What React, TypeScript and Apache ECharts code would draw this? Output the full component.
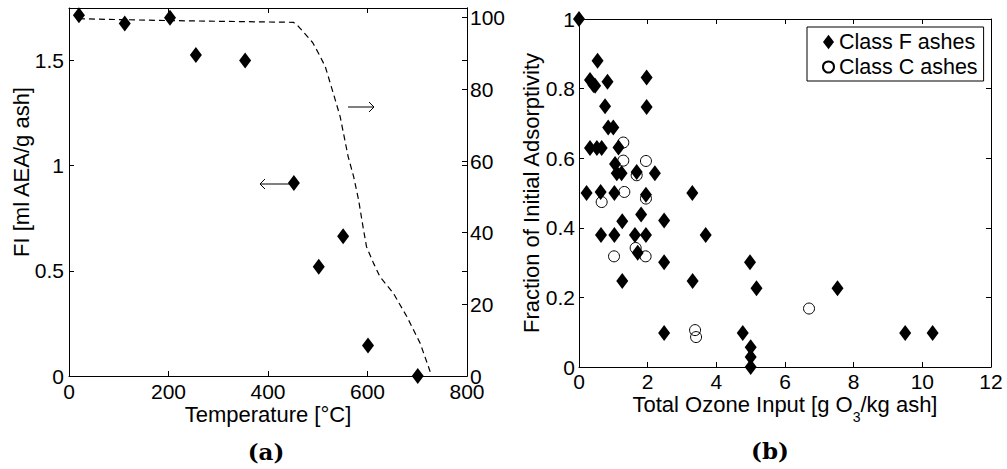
import React, { useEffect, useRef } from "react";
import * as echarts from "echarts";

// ---- Panel (a): Foam Index vs temperature ----
const tempPoints = [20, 112, 203, 255, 354, 452, 502, 551, 601, 701];
const fiValues = [1.715, 1.676, 1.704, 1.527, 1.5, 0.918, 0.519, 0.665, 0.145, 0.0];
const curveTemp = [20, 196, 451, 461, 490, 501, 515, 531, 545, 561, 572, 582, 592, 598, 612, 625, 652, 679, 706, 726];
const curvePct = [99.7, 99.2, 98.7, 97.6, 93, 90.2, 86.4, 79, 72.4, 61.3, 55.7, 49.2, 40.8, 36.1, 31.5, 27.7, 23.1, 16.6, 9.1, 1.2];

// ---- Panel (b): fraction of initial adsorptivity vs ozone input ----
const classFOzone = [0, 0.54, 0.32, 0.42, 0.47, 0.83, 1.97, 1.97, 0.76, 0.85, 1.0, 0.32, 0.52, 0.66, 1.15, 1.05, 1.1, 1.24, 1.68, 2.21, 0.22, 0.63, 1.03, 1.95, 3.3, 1.26, 1.81, 2.48, 0.64, 1.03, 1.63, 1.95, 3.69, 1.71, 2.48, 4.98, 1.26, 3.31, 5.17, 7.53, 2.48, 4.77, 5.0, 5.0, 5.0, 9.5, 10.3];
const classFFraction = [1.0, 0.88, 0.825, 0.81, 0.808, 0.82, 0.832, 0.747, 0.749, 0.688, 0.688, 0.629, 0.629, 0.629, 0.631, 0.583, 0.557, 0.557, 0.56, 0.557, 0.5, 0.503, 0.5, 0.495, 0.5, 0.419, 0.438, 0.421, 0.379, 0.379, 0.379, 0.379, 0.379, 0.328, 0.301, 0.301, 0.247, 0.247, 0.226, 0.226, 0.098, 0.098, 0.057, 0.029, 0.0, 0.098, 0.098];
const classCOzone = [1.29, 1.29, 1.95, 1.68, 1.32, 0.66, 1.95, 1.65, 1.02, 1.94, 3.38, 3.41, 6.7];
const classCFraction = [0.645, 0.593, 0.592, 0.551, 0.503, 0.474, 0.484, 0.342, 0.318, 0.318, 0.106, 0.086, 0.168];

const FONT = "'Liberation Sans', Arial, Helvetica, sans-serif";
const SERIF = "'DejaVu Serif', 'Liberation Serif', serif";

const zip = (a: number[], b: number[]) => a.map((v, i) => [v, b[i]]);

function measure(text: string, size: number): number {
  const c = document.createElement("canvas").getContext("2d");
  if (!c) return text.length * size * 0.55;
  c.font = `${size}px ${FONT}`;
  return c.measureText(text).width;
}

const tickLabel = (extra: any) => ({ color: "#000", fontSize: 21, lineHeight: 16, fontFamily: FONT, ...extra });

function baseAxis(extra: any) {
  return {
    type: "value",
    axisLine: { show: true, onZero: false, lineStyle: { color: "#000", width: 1 } },
    axisTick: { show: true, inside: true, length: 5, lineStyle: { color: "#000", width: 1 } },
    splitLine: { show: false },
    ...extra,
  };
}

export default function App() {
  const ref = useRef<HTMLDivElement>(null);
  useEffect(() => {
    if (!ref.current) return;
    const chart = echarts.init(ref.current, undefined, { renderer: "svg" });
    const multiple = (step: number) => (v: number) =>
      Math.abs(v / step - Math.round(v / step)) < 1e-6 ? String(+v.toFixed(2)) : "";

    // x-axis title of panel (b) with subscript, built from three text pieces
    const tA = "Total Ozone Input [g O";
    const tSub = "3";
    const tB = "/kg ash]";
    const wA = measure(tA, 22);
    const wSub = measure(tSub, 14);
    const wB = measure(tB, 22);
    const startX = 785 - (wA + wSub + wB) / 2;

    const titleStyle = { fill: "#000", fontSize: 22, lineHeight: 18, fontFamily: FONT, verticalAlign: "middle" };

    const option: any = {
      animation: false,
      backgroundColor: "#fff",
      grid: [
        { left: 69, top: 8, width: 398, height: 368, containLabel: false },
        { left: 579, top: 19, width: 412, height: 348, containLabel: false },
      ],
      xAxis: [
        baseAxis({ gridIndex: 0, position: "bottom", min: 0, max: 800, interval: 200, axisLabel: tickLabel({ margin: 7 }) }),
        baseAxis({ gridIndex: 0, position: "top", min: 0, max: 800, interval: 200, axisLabel: { show: false } }),
        baseAxis({ gridIndex: 1, position: "bottom", min: 0, max: 12, interval: 2, axisLabel: tickLabel({ margin: 6.5 }) }),
        baseAxis({ gridIndex: 1, position: "top", min: 0, max: 12, interval: 2, axisLabel: { show: false } }),
      ],
      yAxis: [
        baseAxis({ gridIndex: 0, position: "left", min: 0, max: 1.75, interval: 0.5, axisLabel: tickLabel({ margin: 5, formatter: multiple(0.5) }) }),
        baseAxis({ gridIndex: 0, position: "right", min: 0, max: 102.7, interval: 20, axisLabel: tickLabel({ margin: 3, padding: [5, 0, 0, 0], formatter: multiple(20) }) }),
        baseAxis({ gridIndex: 0, position: "right", offset: 0, min: 0, max: 1.75, interval: 0.5, axisLabel: { show: false } }),
        baseAxis({ gridIndex: 1, position: "left", min: 0, max: 1, interval: 0.2, axisLabel: tickLabel({ margin: 4, formatter: multiple(0.2) }) }),
        baseAxis({ gridIndex: 1, position: "right", min: 0, max: 1, interval: 0.2, axisLabel: { show: false } }),
      ],
      legend: {
        show: true,
        orient: "vertical",
        left: 807,
        top: 27,
        data: [
          { name: "Class F ashes", icon: "path://M0,-8L6,0L0,8L-6,0Z" },
          { name: "Class C ashes" },
        ],
        itemWidth: 11,
        itemHeight: 15,
        itemGap: 3,
        padding: [4, 6, 3, 15],
        borderColor: "#000",
        borderWidth: 1,
        borderRadius: 0,
        backgroundColor: "#fff",
        textStyle: { color: "#000", fontSize: 21.5, fontFamily: FONT, lineHeight: 22 },
        selectedMode: false,
      },
      series: [
        {
          name: "FI",
          type: "scatter",
          xAxisIndex: 0,
          yAxisIndex: 0,
          symbol: "diamond",
          symbolSize: [12, 16],
          itemStyle: { color: "#000", opacity: 1 },
          data: zip(tempPoints, fiValues),
          z: 3,
        },
        {
          name: "Fraction",
          type: "line",
          xAxisIndex: 0,
          yAxisIndex: 1,
          showSymbol: false,
          symbol: "none",
          lineStyle: { color: "#000", width: 1.2, type: [6, 4] },
          data: zip(curveTemp, curvePct),
          z: 2,
        },
        {
          name: "Class F ashes",
          type: "scatter",
          xAxisIndex: 2,
          yAxisIndex: 3,
          symbol: "diamond",
          symbolSize: [12, 16],
          itemStyle: { color: "#000", opacity: 1 },
          data: zip(classFOzone, classFFraction),
          z: 3,
        },
        {
          name: "Class C ashes",
          type: "scatter",
          xAxisIndex: 2,
          yAxisIndex: 3,
          symbol: "circle",
          symbolSize: 11,
          itemStyle: { color: "rgba(0,0,0,0)", borderColor: "#000", borderWidth: 1, opacity: 1 },
          data: zip(classCOzone, classCFraction),
          z: 4,
        },
      ],
      graphic: [
        // axis titles
        { type: "text", x: 21, y: 172, rotation: Math.PI / 2, style: { ...titleStyle, text: "FI [ml AEA/g ash]", align: "center" } },
        { type: "text", x: 268, y: 414, style: { ...titleStyle, text: "Temperature [°C]", align: "center" } },
        { type: "text", x: 531, y: 193, rotation: Math.PI / 2, style: { ...titleStyle, text: "Fraction of Initial Adsorptivity", align: "center" } },
        { type: "text", x: startX, y: 404, style: { ...titleStyle, text: tA, align: "left" } },
        { type: "text", x: startX + wA, y: 417, style: { fill: "#000", fontSize: 14, lineHeight: 11, fontFamily: FONT, text: tSub, align: "left", verticalAlign: "middle" } },
        { type: "text", x: startX + wA + wSub, y: 404, style: { ...titleStyle, text: tB, align: "left" } },
        // panel letters
        { type: "text", x: 266, y: 451, style: { text: "(a)", fill: "#000", fontSize: 23, fontWeight: "bold", fontFamily: SERIF, align: "center", verticalAlign: "middle" } },
        { type: "text", x: 770, y: 450, style: { text: "(b)", fill: "#000", fontSize: 23, fontWeight: "bold", fontFamily: SERIF, align: "center", verticalAlign: "middle" } },
        // arrows
        { type: "line", shape: { x1: 348, y1: 107, x2: 374, y2: 107 }, style: { stroke: "#000", lineWidth: 1 } },
        { type: "polyline", shape: { points: [[369, 102], [374, 107], [369, 112]] }, style: { stroke: "#000", lineWidth: 1, fill: null } },
        { type: "line", shape: { x1: 260, y1: 184, x2: 293, y2: 184 }, style: { stroke: "#000", lineWidth: 1 } },
        { type: "polyline", shape: { points: [[265, 179], [260, 184], [265, 189]] }, style: { stroke: "#000", lineWidth: 1, fill: null } },
      ],
    };
    chart.setOption(option);
    return () => chart.dispose();
  }, []);
  return (
    <div
      ref={ref}
      style={{ position: "absolute", left: 0, top: 0, width: 1007, height: 469, background: "#fff" }}
    />
  );
}
